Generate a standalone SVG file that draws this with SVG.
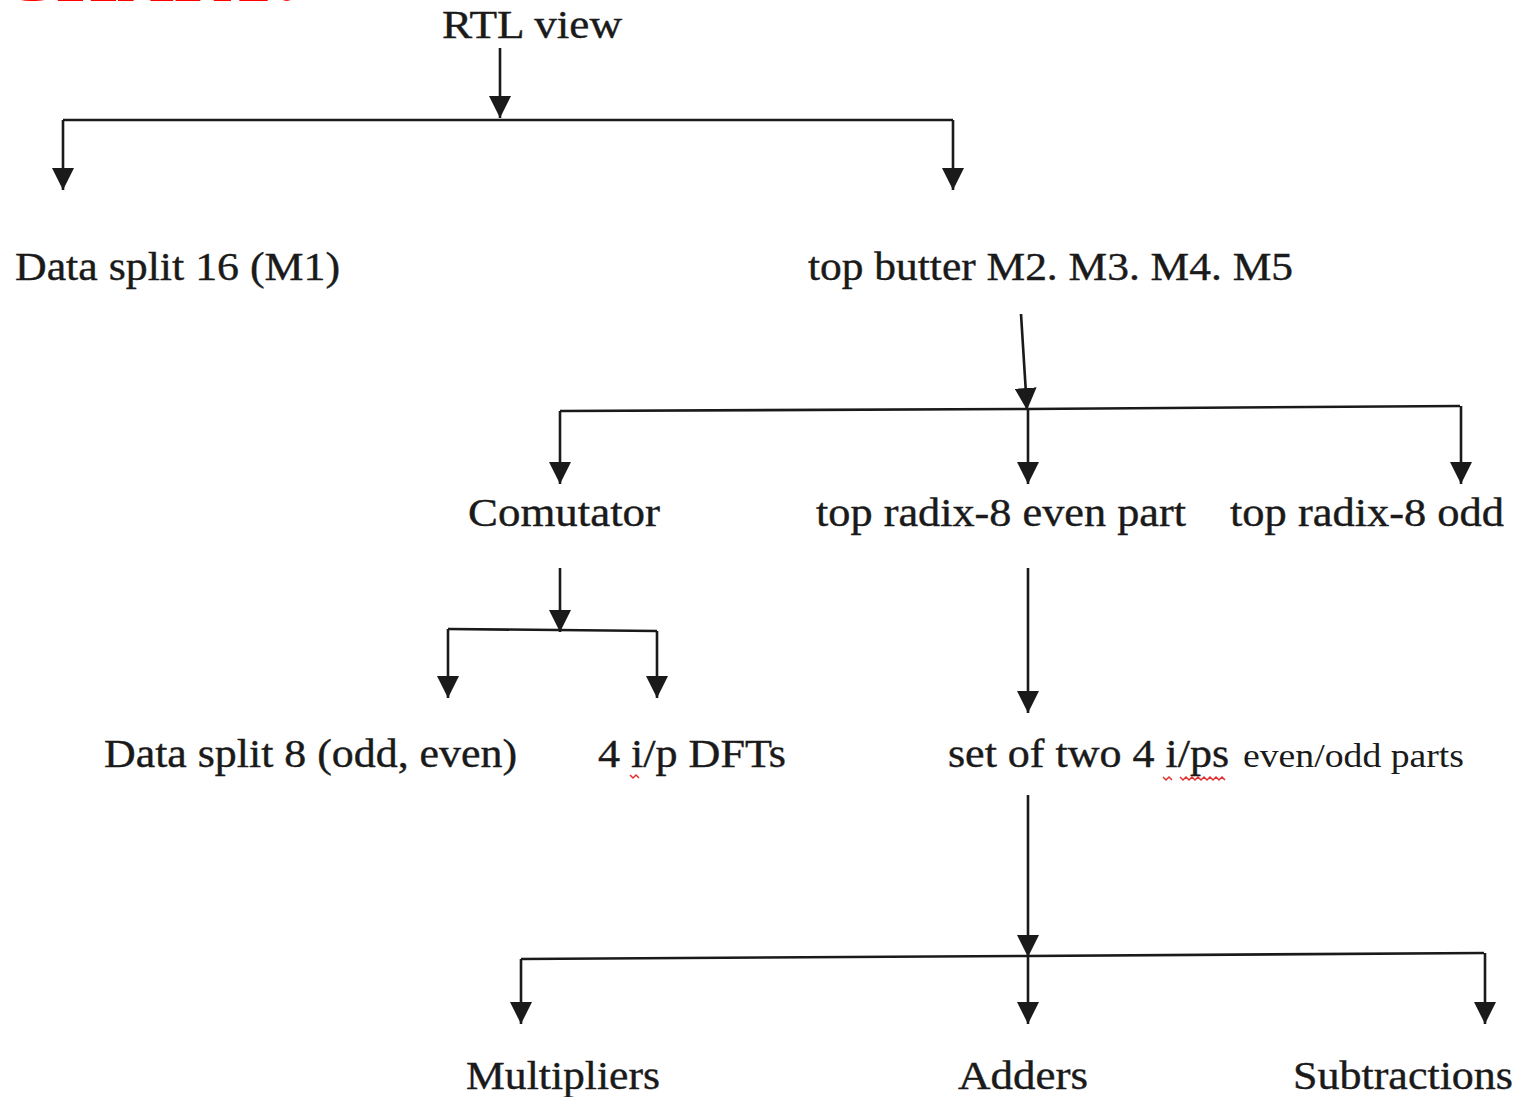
<svg xmlns="http://www.w3.org/2000/svg" width="1522" height="1097" viewBox="0 0 1522 1097">
<style>
.t{font-family:"Liberation Serif","Times New Roman",serif;font-size:40px;fill:#1a1a1a;stroke:#1a1a1a;stroke-width:0.4}
.s{font-family:"Liberation Serif","Times New Roman",serif;font-size:34px;fill:#1a1a1a}
.c{fill:none;stroke:#1a1a1a;stroke-width:2.6}
.sq{fill:none;stroke:#e03030;stroke-width:1.5}
</style>
<defs>
<marker id="ah" viewBox="0 0 10 10" markerUnits="userSpaceOnUse" markerWidth="22" markerHeight="22" refX="10" refY="5" orient="auto">
<path d="M0,0 L10,5 L0,10 z" fill="#1a1a1a"/>
</marker>
</defs>
<rect width="1522" height="1097" fill="#ffffff"/>
<text x="0" y="1" style="font-family:'Liberation Serif',serif;font-size:48px;font-weight:bold;fill:#ff0000" textLength="300" lengthAdjust="spacingAndGlyphs">CHART:</text>

<g id="connectors">
<line class="c" x1="500" y1="48" x2="500" y2="118" marker-end="url(#ah)"/>
<polyline class="c" points="63,120 953,120"/>
<line class="c" x1="63" y1="120" x2="63" y2="190" marker-end="url(#ah)"/>
<line class="c" x1="953" y1="120" x2="953" y2="190" marker-end="url(#ah)"/>

<line class="c" x1="1021" y1="314" x2="1027" y2="410" marker-end="url(#ah)"/>
<polyline class="c" points="560,411 1028,409 1460,406"/>
<line class="c" x1="560" y1="411" x2="560" y2="484" marker-end="url(#ah)"/>
<line class="c" x1="1028" y1="409" x2="1028" y2="484" marker-end="url(#ah)"/>
<line class="c" x1="1461" y1="406" x2="1461" y2="484" marker-end="url(#ah)"/>

<line class="c" x1="560" y1="568" x2="560" y2="632" marker-end="url(#ah)"/>
<polyline class="c" points="448,629 657,631"/>
<line class="c" x1="448" y1="629" x2="448" y2="698" marker-end="url(#ah)"/>
<line class="c" x1="657" y1="631" x2="657" y2="698" marker-end="url(#ah)"/>

<line class="c" x1="1028" y1="568" x2="1028" y2="713" marker-end="url(#ah)"/>

<line class="c" x1="1028" y1="795" x2="1028" y2="957" marker-end="url(#ah)"/>
<polyline class="c" points="521,959 1028,956 1484,953"/>
<line class="c" x1="521" y1="959" x2="521" y2="1024" marker-end="url(#ah)"/>
<line class="c" x1="1028" y1="956" x2="1028" y2="1024" marker-end="url(#ah)"/>
<line class="c" x1="1485" y1="953" x2="1485" y2="1024" marker-end="url(#ah)"/>
</g>

<g id="n-rtl"><text class="t" x="442" y="38" textLength="180" lengthAdjust="spacingAndGlyphs">RTL view</text></g>
<g id="n-ds16"><text class="t" x="15" y="280" textLength="325" lengthAdjust="spacingAndGlyphs">Data split 16 (M1)</text></g>
<g id="n-topbutter"><text class="t" x="808" y="280" textLength="485" lengthAdjust="spacingAndGlyphs">top butter M2. M3. M4. M5</text></g>
<g id="n-comutator"><text class="t" x="468" y="526" textLength="192" lengthAdjust="spacingAndGlyphs">Comutator</text></g>
<g id="n-even"><text class="t" x="816" y="526" textLength="370" lengthAdjust="spacingAndGlyphs">top radix-8 even part</text></g>
<g id="n-odd"><text class="t" x="1230" y="526" textLength="274" lengthAdjust="spacingAndGlyphs">top radix-8 odd</text></g>
<g id="n-ds8"><text class="t" x="104" y="767" textLength="413" lengthAdjust="spacingAndGlyphs">Data split 8 (odd, even)</text></g>
<g id="n-dft"><text class="t" x="598" y="767" textLength="188" lengthAdjust="spacingAndGlyphs">4 i/p DFTs</text>
<path class="sq" d="M630,775 l3,3 l3,-3 l3,3"/></g>
<g id="n-set"><text class="t" x="948" y="767" textLength="281" lengthAdjust="spacingAndGlyphs">set of two 4 i/ps</text>
<text class="s" x="1243" y="767" textLength="221" lengthAdjust="spacingAndGlyphs">even/odd parts</text>
<path class="sq" d="M1163,777 l3,3 l3,-3 l3,3"/>
<path class="sq" d="M1180,777 l3,3 l3,-3 l3,3 l3,-3 l3,3 l3,-3 l3,3 l3,-3 l3,3 l3,-3 l3,3 l3,-3 l3,3 l3,-3 l3,3"/></g>
<g id="n-mul"><text class="t" x="466" y="1089" textLength="194" lengthAdjust="spacingAndGlyphs">Multipliers</text></g>
<g id="n-add"><text class="t" x="958" y="1089" textLength="130" lengthAdjust="spacingAndGlyphs">Adders</text></g>
<g id="n-sub"><text class="t" x="1293" y="1089" textLength="220" lengthAdjust="spacingAndGlyphs">Subtractions</text></g>
</svg>
